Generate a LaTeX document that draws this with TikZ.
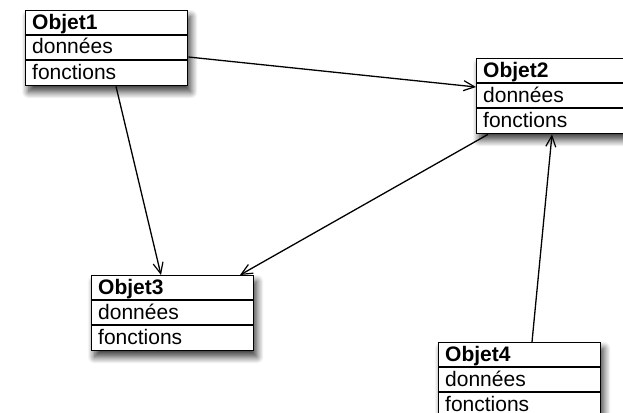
\documentclass[tikz,border=0pt]{standalone}
\usepackage{fontspec}
\setmainfont{Liberation Sans}
\usetikzlibrary{arrows.meta,shadows.blur}
\tikzset{
  objbox/.style={draw=black, line width=1.4pt, fill=white, rectangle, inner sep=0pt,
    minimum width=162pt, minimum height=75pt, anchor=north west,
    blur shadow={shadow xshift=3pt, shadow yshift=-6pt, shadow blur radius=7pt, shadow blur steps=12, shadow opacity=80}},
  rowline/.style={draw=black, line width=1.2pt},
  lbl/.style={anchor=base west, inner sep=0pt, font=\fontsize{21}{24}\selectfont},
  conn/.style={draw=black, line width=1.3pt, -{Straight Barb[length=11pt,width=10pt,line width=1.2pt]}},
}
\newcommand{\objbox}[4]{%
  \node[objbox] (#1) at (#2,#3) {};
  \draw[rowline] ([yshift=-25pt]#1.north west) -- ([yshift=-25pt]#1.north east);
  \draw[rowline] ([yshift=-50pt]#1.north west) -- ([yshift=-50pt]#1.north east);
  \node[lbl] (#1t) at ([xshift=7pt,yshift=-19.5pt]#1.north west) {\bfseries #4};
  \node[lbl] (#1d) at ([xshift=7pt,yshift=-44pt]#1.north west) {données};
  \node[lbl] (#1f) at ([xshift=7pt,yshift=-69pt]#1.north west) {fonctions};
}
\begin{document}
\begin{tikzpicture}[x=1pt,y=-1pt]
\useasboundingbox (0,0) rectangle (623,412);
\clip (0,0) rectangle (623,412);
\objbox{o1}{25}{10}{Objet1}
\objbox{o2}{476}{58}{Objet2}
\objbox{o3}{91}{275}{Objet3}
\objbox{o4}{438}{342}{Objet4}
\draw[conn] ([yshift=-47pt]o1.north east) -- ([yshift=-29pt]o2.north west);
\draw[conn] ([xshift=91pt]o1.south west) -- ([xshift=70pt]o3.north west);
\draw[conn] ([xshift=12pt]o2.south west) -- ([xshift=149pt]o3.north west);
\draw[conn] ([xshift=94pt]o4.north west) -- ([xshift=76pt]o2.south west);
\end{tikzpicture}
\end{document}
